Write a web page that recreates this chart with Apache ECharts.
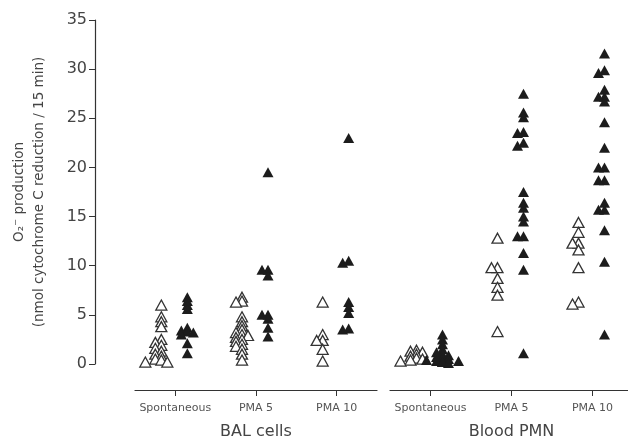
<!DOCTYPE html>
<html>
<head>
<meta charset="utf-8">
<script src="https://cdn.jsdelivr.net/npm/echarts@6/dist/echarts.min.js"></script>
<style>html,body{margin:0;padding:0;background:#fff}#c{width:628px;height:443px}</style>
</head>
<body>
<div id="c"></div>
<script>
const conditions = ['Spontaneous', 'PMA 5', 'PMA 10'];
const groupNames = ['BAL cells', 'Blood PMN'];
const yTicks = [0, 5, 10, 15, 20, 25, 30, 35];

// BAL cells: open (control) and filled triangles per condition
const balOpen = [
  [6.0, 4.8, 4.3, 3.8, 2.5, 2.2, 1.9, 1.6, 1.3, 1.0, 0.8, 0.5, 0.4, 0.2, 0.2],
  [6.8, 6.4, 6.3, 4.8, 4.3, 3.9, 3.5, 3.2, 3.0, 2.9, 2.7, 2.5, 2.3, 2.0, 1.8, 1.5, 1.0, 0.4],
  [6.3, 3.0, 2.4, 2.4, 1.5, 0.3]
];
const balFilled = [
  [6.8, 6.4, 6.0, 5.6, 3.7, 3.4, 3.3, 3.2, 3.0, 2.1, 1.1],
  [19.5, 9.6, 9.6, 9.0, 5.0, 5.0, 4.6, 3.7, 2.8],
  [23.0, 10.5, 10.3, 6.3, 5.8, 5.2, 3.6, 3.5]
];
// Blood PMN
const pmnOpen = [
  [1.4, 1.3, 1.2, 1.0, 0.8, 0.6, 0.5, 0.4, 0.3],
  [12.8, 9.8, 9.8, 8.7, 7.8, 7.0, 3.3],
  [14.4, 13.4, 12.3, 12.3, 11.6, 9.8, 6.3, 6.1]
];
const pmnFilled = [
  [3.0, 2.5, 2.0, 1.5, 1.2, 1.0, 0.9, 0.7, 0.6, 0.5, 0.4, 0.3, 0.3, 0.2, 0.2, 0.1],
  [27.5, 25.6, 25.1, 23.6, 23.5, 22.5, 22.2, 17.5, 16.4, 15.9, 15.0, 14.5, 13.0, 13.0, 11.3, 9.6, 1.1],
  [31.6, 29.9, 29.6, 27.9, 27.2, 27.2, 26.7, 24.6, 22.0, 20.0, 20.0, 18.7, 18.7, 16.4, 15.7, 15.7, 13.6, 10.4, 3.0]
];

const PX_PER_UNIT = 344 / 35;
const SLOTS = [0, -6, 6, -11, 11, -16, 16];

// deterministic pile-up: shift near-coincident points sideways
function column(values, catIdx, baseOffset) {
  const placed = [];
  const out = [];
  values.forEach(v => {
    const py = v * PX_PER_UNIT;
    let dx = 0;
    for (const s of SLOTS) {
      const clash = placed.some(p => Math.abs(p.dx - s) < 6 && Math.abs(p.py - py) < 3.5);
      if (!clash) { dx = s; break; }
    }
    placed.push({dx, py});
    out.push({value: [catIdx, v], symbolOffset: [baseOffset + dx, 0]});
  });
  return out;
}

function seriesFor(groupIdx, open, filled) {
  const s = [];
  for (let c = 0; c < conditions.length; c++) {
    s.push({
      type: 'scatter', xAxisIndex: groupIdx, yAxisIndex: groupIdx,
      symbol: 'triangle', symbolSize: [11, 10],
      itemStyle: {color: '#ffffff', borderColor: '#333', borderWidth: 1.3, opacity: 1},
      data: column(open[c], c, -14), z: 2
    });
    s.push({
      type: 'scatter', xAxisIndex: groupIdx, yAxisIndex: groupIdx,
      symbol: 'triangle', symbolSize: [11, 10],
      itemStyle: {color: '#1c1c1c', opacity: 1},
      data: column(filled[c], c, 12), z: 3
    });
  }
  return s;
}

const fontFam = 'DejaVu Sans, sans-serif';
function catAxis(gi) {
  return {
    type: 'category', gridIndex: gi, data: conditions, position: 'bottom', offset: 26,
    axisLine: {show: true, onZero: false, lineStyle: {color: '#333', width: 1.2}},
    axisTick: {show: true, alignWithLabel: true, length: 6, lineStyle: {color: '#333'}},
    axisLabel: {color: '#555', fontSize: 11, margin: 13, interval: 0, fontFamily: fontFam},
    name: groupNames[gi], nameLocation: 'middle', nameGap: 34,
    nameTextStyle: {color: '#444', fontSize: 16, fontFamily: fontFam},
    splitLine: {show: false}
  };
}

const chart = echarts.init(document.getElementById('c'), null, {renderer: 'canvas'});
chart.setOption({
  backgroundColor: '#fff',
  animation: false,
  grid: [
    {left: 135, right: 251, top: 20, height: 344, outerBoundsMode: 'none', containLabel: false},
    {left: 390, right: -5, top: 20, height: 344, outerBoundsMode: 'none', containLabel: false}
  ],
  xAxis: [catAxis(0), catAxis(1)],
  yAxis: [
    {
      type: 'value', gridIndex: 0, min: yTicks[0], max: yTicks[yTicks.length - 1], interval: 5,
      offset: 40,
      axisLine: {show: true, onZero: false, lineStyle: {color: '#333', width: 1.2}},
      axisTick: {show: true, length: 6, lineStyle: {color: '#333'}},
      axisLabel: {color: '#444', fontSize: 16, margin: 8, fontFamily: fontFam},
      splitLine: {show: false},
      name: 'O\u2082\u207B production\n(nmol cytochrome C reduction / 15 min)',
      nameLocation: 'middle', nameGap: 46, nameRotate: 90,
      nameTextStyle: {color: '#444', fontSize: 13.5, lineHeight: 20, fontFamily: fontFam}
    },
    {
      type: 'value', gridIndex: 1, min: yTicks[0], max: yTicks[yTicks.length - 1], interval: 5,
      show: false, splitLine: {show: false}
    }
  ],
  series: [...seriesFor(0, balOpen, balFilled), ...seriesFor(1, pmnOpen, pmnFilled)]
});
</script>
</body>
</html>
